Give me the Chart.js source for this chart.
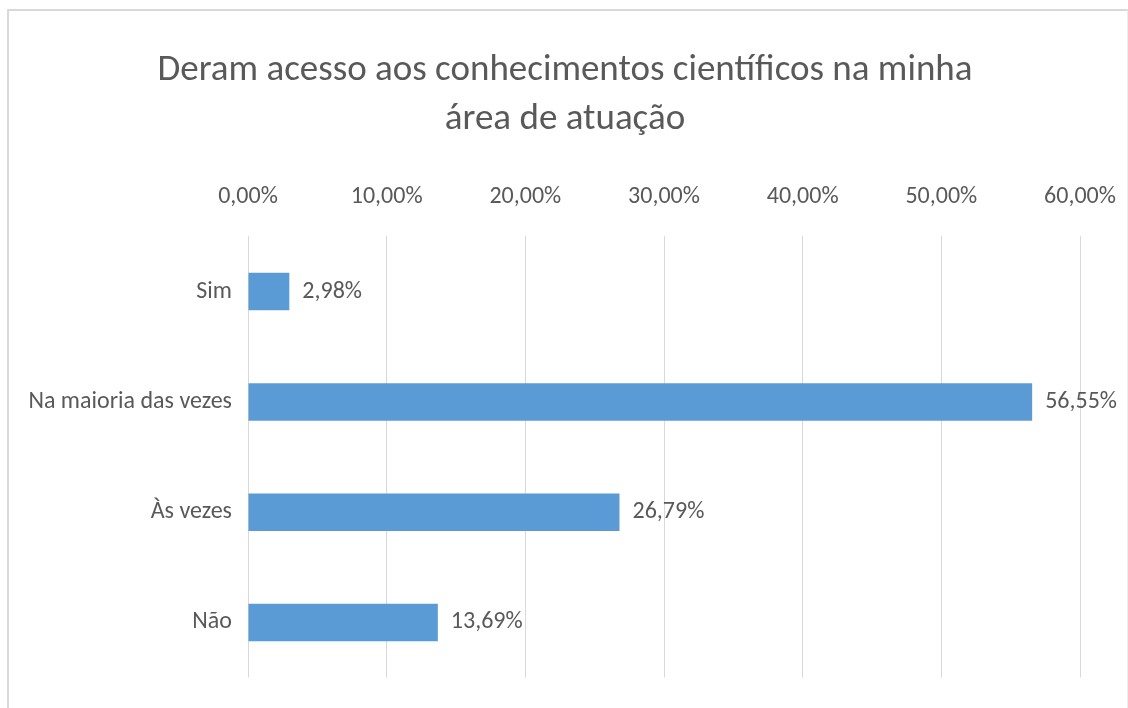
<!DOCTYPE html>
<html>
<head>
<meta charset="utf-8">
<script src="https://cdn.jsdelivr.net/npm/chart.js@4/dist/chart.umd.min.js"></script>
<style>
  html, body { margin:0; padding:0; background:#fff; overflow:hidden; }
  #frame { position:absolute; left:7px; top:9px; width:1118px; height:720px;
           border-top:2px solid #d9d9d9; border-left:2px solid #d9d9d9; border-right:1px solid #ececec; }
  #wrap { position:absolute; left:0; top:0; width:1128px; height:708px; }
</style>
</head>
<body>
<div id="frame"></div>
<div id="wrap"><canvas id="chart"></canvas></div>
<script>
// Dados do gráfico
const categorias = ["Sim", "Na maioria das vezes", "Às vezes", "Não"];
const valores = [2.98, 56.55, 26.79, 13.69];
const tituloLinhas = ["Deram acesso aos conhecimentos científicos na minha", "área de atuação"];

const cinza = "#595959";
const fonte = "Carlito, Lato, 'Open Sans', sans-serif";

function formatPct(v) {
  return v.toFixed(2).replace(".", ",") + "%";
}

// rótulos de dados no fim de cada barra
const rotulos = {
  id: "rotulos",
  afterLayout(chart) {
    // deixa os nomes compridos do eixo y sairem da caixa do eixo sem corte
    chart.scales.y.left = 0;
  },
  afterDatasetsDraw(chart) {
    const ctx = chart.ctx;
    const meta = chart.getDatasetMeta(0);
    ctx.save();
    ctx.font = "24px " + fonte;
    ctx.fillStyle = cinza;
    ctx.textBaseline = "middle";
    ctx.textAlign = "left";
    meta.data.forEach((bar, i) => {
      ctx.fillText(formatPct(valores[i]), bar.x + 13, bar.y);
    });
    ctx.restore();
  }
};

new Chart(document.getElementById("chart"), {
  type: "bar",
  data: {
    labels: categorias,
    datasets: [{
      data: valores,
      backgroundColor: "#5b9bd5",
      borderWidth: 0,
      categoryPercentage: 1,
      barPercentage: 0.34
    }]
  },
  options: {
    indexAxis: "y",
    responsive: true,
    maintainAspectRatio: false,
    animation: false,
    layout: { padding: { top: 20, right: 48, left: 50, bottom: 29 } },
    plugins: {
      legend: { display: false },
      tooltip: { enabled: false },
      title: {
        display: true,
        text: tituloLinhas,
        color: cinza,
        font: { family: fonte, size: 37, weight: "normal", lineHeight: 1.32 },
        padding: { top: 26, bottom: 27 }
      }
    },
    scales: {
      x: {
        position: "top",
        min: 0,
        max: 60,
        ticks: {
          stepSize: 10,
          color: cinza,
          font: { family: fonte, size: 24 },
          padding: 12,
          callback: v => formatPct(v)
        },
        grid: { color: "#d9d9d9", drawTicks: true, tickLength: 13, tickColor: "rgba(0,0,0,0)", lineWidth: 1 },
        border: { display: false }
      },
      y: {
        ticks: {
          color: cinza,
          font: { family: fonte, size: 24 },
          padding: 16
        },
        grid: { display: false, drawTicks: false },
        border: { display: false },
        afterFit(scale) { scale.width = 198; }
      }
    }
  },
  plugins: [rotulos]
});
</script>
</body>
</html>
